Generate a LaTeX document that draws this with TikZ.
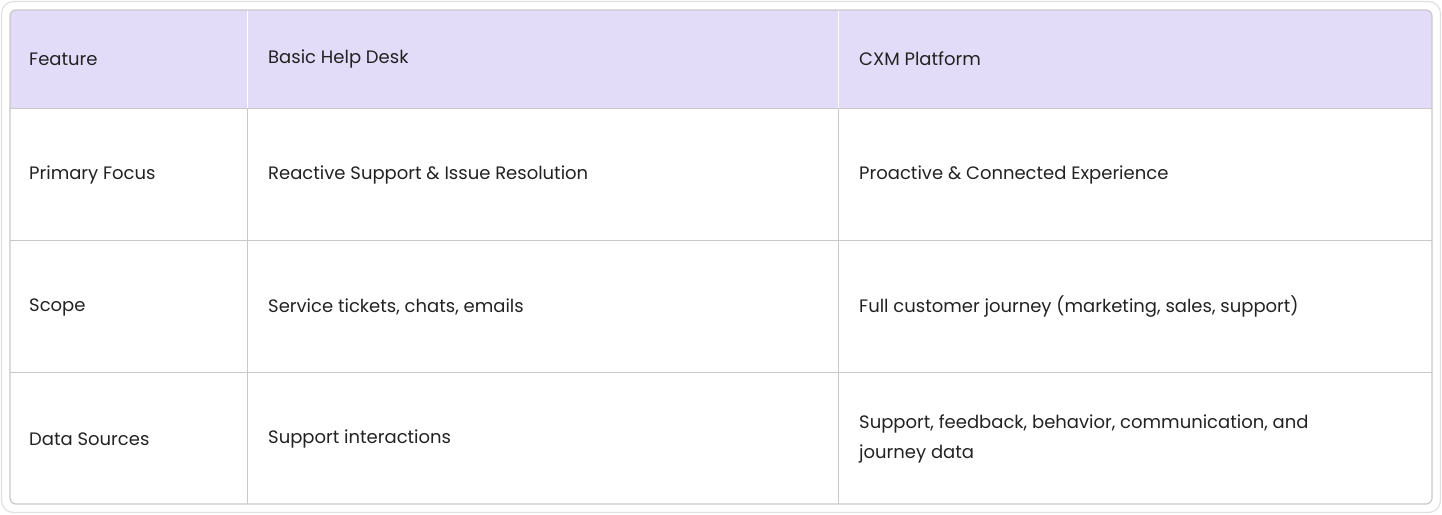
\documentclass[tikz,border=0pt]{standalone}
\usepackage{fontspec}
\setmainfont{Poppins}
\definecolor{hdr}{HTML}{E3DCF8}
\definecolor{grid}{HTML}{C8C8C8}
\definecolor{txt}{HTML}{222222}
\begin{document}
\begin{tikzpicture}[x=1pt,y=-1pt,
  cell/.style={anchor=west,text=txt,font=\fontsize{18}{30}\selectfont,inner sep=0pt,align=left}]
\useasboundingbox (0,0) rectangle (1442,514);
\draw[draw=black!12,line width=1.2pt,rounded corners=12pt] (1.5,1.5) rectangle (1440.5,512.5);
\begin{scope}
\clip[rounded corners=6pt] (10,10) rectangle (1432,504);
\fill[hdr] (10,10) rectangle (1432,108);
\draw[white,line width=1pt] (247,10) -- (247,108) (838,10) -- (838,108);
\draw[grid,line width=1pt] (10,108) -- (1432,108) (10,240) -- (1432,240) (10,372) -- (1432,372)
  (247,108) -- (247,504) (838,108) -- (838,504);
\end{scope}
\draw[grid,line width=1.2pt,rounded corners=6pt] (10,10) rectangle (1432,504);
\node[cell] (h1) at (29,59) {Feature};
\node[cell] (h2) at (268,59) {Basic Help Desk};
\node[cell] (h3) at (859,59) {CXM Platform};
\node[cell] (a1) at (29,175) {Primary Focus};
\node[cell] (a2) at (268,175) {Reactive Support \& Issue Resolution};
\node[cell] (a3) at (859,175) {Proactive \& Connected Experience};
\node[cell] (b1) at (29,307) {Scope};
\node[cell] (b2) at (268,307) {Service tickets, chats, emails};
\node[cell] (b3) at (859,307) {Full customer journey (marketing, sales, support)};
\node[cell] (c1) at (29,439) {Data Sources};
\node[cell] (c2) at (268,439) {Support interactions};
\node[cell] (c3) at (859,439) {Support, feedback, behavior, communication, and\\journey data};
\end{tikzpicture}
\end{document}
